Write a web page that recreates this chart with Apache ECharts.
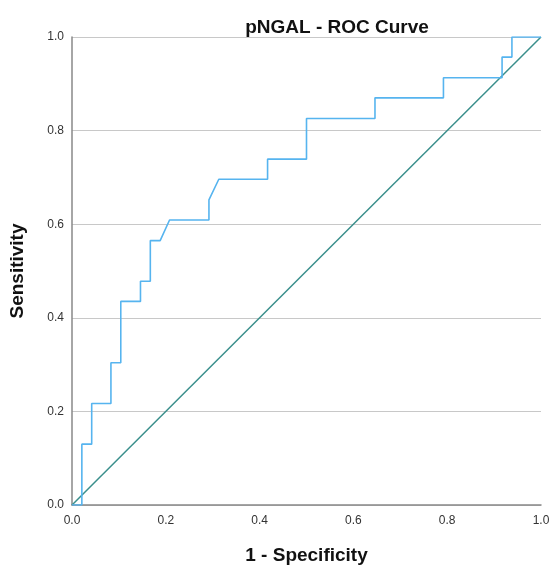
<!DOCTYPE html>
<html lang="en">
<head>
    <meta charset="UTF-8">
    <script src="https://cdn.jsdelivr.net/npm/echarts@6/dist/echarts.min.js"></script>
    <title>pNGAL - ROC Curve</title>
    <style>body{margin:0;}</style>
</head>
<body>
<div id="main" style="width: 549px;height:566px;"></div>
<script type="text/javascript">
    // ROC curve points
    var fpr = [0, 0.021, 0.021, 0.042, 0.042, 0.083, 0.083, 0.104, 0.104, 0.146, 0.146, 0.167, 0.167, 0.188,
               0.208, 0.292, 0.292, 0.313, 0.417, 0.417, 0.500, 0.500, 0.646, 0.646, 0.792, 0.792,
               0.917, 0.917, 0.938, 0.938, 1.0];
    var tpr = [0, 0, 0.130, 0.130, 0.217, 0.217, 0.304, 0.304, 0.435, 0.435, 0.478, 0.478, 0.565, 0.565,
               0.609, 0.609, 0.652, 0.696, 0.696, 0.739, 0.739, 0.826, 0.826, 0.870, 0.870, 0.913,
               0.913, 0.957, 0.957, 1.0, 1.0];
    var refX = [0, 1];
    var refY = [0, 1];

    var rocData = fpr.map(function (x, i) { return [x, tpr[i]]; });
    var refData = refX.map(function (x, i) { return [x, refY[i]]; });

    var myChart = echarts.init(document.getElementById('main'));
    var font = 'Arial, "Liberation Sans", sans-serif';

    var option = {
        animation: false,
        backgroundColor: '#fff',
        title: {
            text: 'pNGAL - ROC Curve',
            left: 332,
            top: 13,
            textAlign: 'center',
            textStyle: { fontFamily: font, fontSize: 19, fontWeight: 'bold', color: '#111' }
        },
        grid: { left: 72, right: 8, top: 37, bottom: 61, containLabel: false, outerBoundsMode: 'none' },
        xAxis: {
            type: 'value', min: 0, max: 1, interval: 0.2,
            name: '1 - Specificity', nameLocation: 'middle', nameGap: 41,
            nameTextStyle: { fontFamily: font, fontSize: 19, fontWeight: 'bold', color: '#111' },
            axisLine: { lineStyle: { color: '#888', width: 1.5 } },
            axisTick: { show: false },
            splitLine: { show: false },
            axisLabel: {
                fontFamily: font, fontSize: 12, color: '#333', margin: 10,
                formatter: function (v) { return v.toFixed(1); }
            }
        },
        yAxis: {
            type: 'value', min: 0, max: 1, interval: 0.2,
            name: 'Sensitivity', nameLocation: 'middle', nameGap: 45,
            nameTextStyle: { fontFamily: font, fontSize: 19, fontWeight: 'bold', color: '#111' },
            axisLine: { show: true, lineStyle: { color: '#888', width: 1.5 } },
            axisTick: { show: false },
            splitLine: { lineStyle: { color: '#c8c8c8', width: 1.2 } },
            axisLabel: {
                fontFamily: font, fontSize: 12, color: '#333', margin: 8,
                formatter: function (v) { return v.toFixed(1); }
            }
        },
        series: [
            {
                name: 'Reference',
                type: 'line',
                data: refData,
                symbol: 'none',
                lineStyle: { color: '#3a8f8c', width: 1.5 }
            },
            {
                name: 'pNGAL',
                type: 'line',
                data: rocData,
                symbol: 'none',
                lineStyle: { color: '#56b4ef', width: 1.6 }
            }
        ]
    };

    myChart.setOption(option);
</script>
</body>
</html>
